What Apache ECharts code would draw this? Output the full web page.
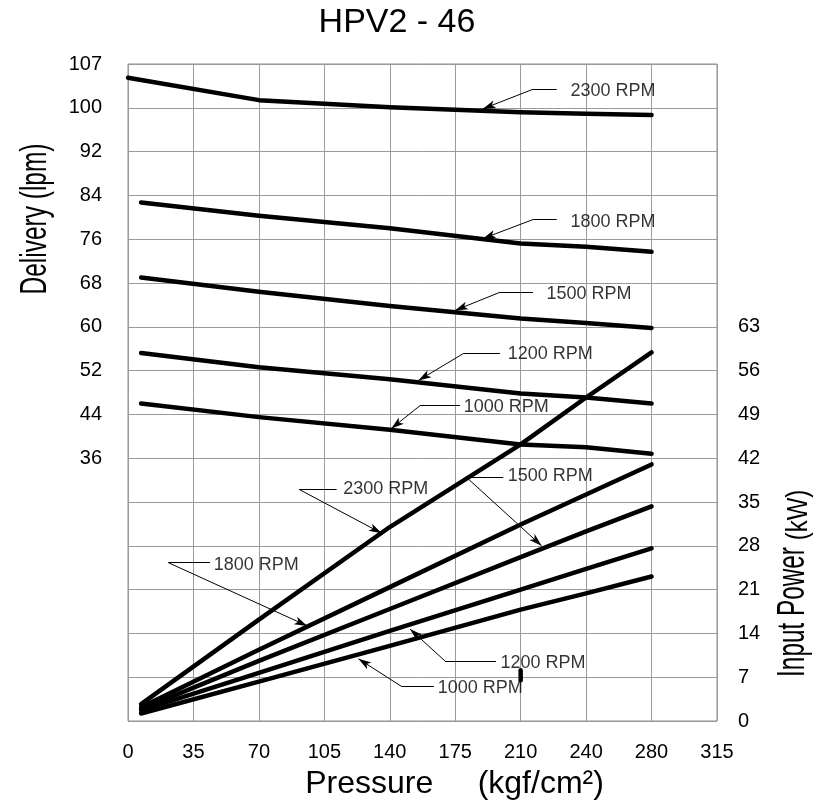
<!DOCTYPE html>
<html><head><meta charset="utf-8">
<script src="https://cdn.jsdelivr.net/npm/echarts@6/dist/echarts.min.js"></script>
<style>html,body{margin:0;padding:0;background:#fff}#c{width:816px;height:805px}</style>
</head><body><div id="c"></div>
<script>
const FONT = '"Liberation Sans", Arial, Helvetica, sans-serif';

// x axis ticks (the 8th grid line is labelled 240 on the original)
const pressureTickValues = [0, 35, 70, 105, 140, 175, 210, 245, 280, 315];
const pressureTickLabels = ['0', '35', '70', '105', '140', '175', '210', '240', '280', '315'];
// left axis (delivery, lpm)
const deliveryTickValues = [36, 44, 52, 60, 68, 76, 84, 92, 100, 108];
const deliveryTickLabels = ['36', '44', '52', '60', '68', '76', '84', '92', '100', '107'];
// right axis (input power, kW)
const powerTickValues = [0, 7, 14, 21, 28, 35, 42, 49, 56, 63];
const powerTickLabels = ['0', '7', '14', '21', '28', '35', '42', '49', '56', '63'];

// pressure points of the curves
const pressure2300Delivery = [0, 70, 140, 210, 245, 280];
const pressurePoints = [7, 70, 140, 210, 245, 280];

// delivery (lpm)
const delivery2300 = [105.5, 101.4, 100.1, 99.2, 98.9, 98.7];
const delivery1800 = [82.7, 80.3, 78.0, 75.2, 74.6, 73.7];
const delivery1500 = [69.0, 66.4, 63.8, 61.5, 60.7, 59.8];
const delivery1200 = [55.2, 52.6, 50.4, 47.8, 47.1, 46.0];
const delivery1000 = [46.0, 43.5, 41.2, 38.5, 38.0, 36.8];

// input power (kW)
const power2300 = [2.7, 16.2, 31.0, 44.2, 51.7, 58.9];
const power1800 = [2.2, 11.4, 21.4, 31.4, 36.2, 41.0];
const power1500 = [1.9, 9.6, 17.9, 26.2, 30.3, 34.3];
const power1200 = [1.7, 7.7, 14.4, 21.0, 24.3, 27.6];
const power1000 = [1.2, 6.3, 12.0, 17.8, 20.4, 23.1];

// annotation labels: [text, text anchor, leader points]
const deliveryNotes = [
  ['2300 RPM', [236.4, 103.0], [[229.3, 103.4], [216.7, 103.4], [189.7, 99.8]]],
  ['1800 RPM', [236.4, 79.1], [[229.3, 79.6], [216.7, 79.6], [189.7, 76.1]]],
  ['1500 RPM', [223.5, 65.9], [[216.6, 66.3], [198.9, 66.3], [174.9, 63.0]]],
  ['1200 RPM', [202.8, 55.1], [[198.9, 55.1], [179.3, 55.1], [155.3, 50.2]]],
  ['1000 RPM', [179.3, 45.4], [[177.6, 45.6], [156.2, 45.6], [140.7, 41.4]]]
];
const powerNotes = [
  ['2300 RPM', [114.8, 37.0], [[111.6, 37.0], [91.6, 37.0], [135.7, 30.0]]],
  ['1500 RPM', [202.8, 39.1], [[200.7, 39.0], [180.8, 39.0], [221.2, 28.0]]],
  ['1800 RPM', [45.6, 24.9], [[43.9, 25.3], [21.6, 25.3], [95.9, 15.2]]],
  ['1200 RPM', [198.9, 9.2], [[196.8, 9.6], [169.5, 9.6], [150.8, 14.7]]],
  ['1000 RPM', [165.4, 5.2], [[163.6, 5.5], [146.4, 5.5], [123.2, 9.95]]]
];
// small stray mark on the original drawing
const strayMark = [[210, 6.5], [210, 8.1]];

function pairs(xs, ys) { return xs.map((x, i) => [x, ys[i]]); }
function curve(name, data, axis) {
  return {
    name: name, type: 'line', yAxisIndex: axis, data: data,
    symbol: 'none', silent: true, animation: false,
    lineStyle: { color: '#000', width: 4.5, cap: 'round', join: 'round' }
  };
}
function leaderSeries(notes, axis) {
  const lines = [];
  notes.forEach(n => {
    const p = n[2];
    lines.push([{ coord: p[0], symbol: 'none' }, { coord: p[1], symbol: 'none' }]);
    lines.push([{ coord: p[1], symbol: 'none' }, { coord: p[2], symbol: 'arrow' }]);
  });
  return {
    type: 'line', yAxisIndex: axis, data: [], silent: true, animation: false,
    markLine: {
      silent: true, animation: false, symbolSize: [6, 13],
      lineStyle: { color: '#000', width: 1, type: 'solid' },
      label: { show: false }, emphasis: { disabled: true },
      data: lines
    }
  };
}
function labelSeries(notes, axis) {
  return {
    type: 'scatter', yAxisIndex: axis, silent: true, animation: false,
    symbolSize: 1, itemStyle: { color: 'rgba(0,0,0,0)' },
    data: notes.map(n => [n[1][0], n[1][1], n[0]]),
    label: {
      show: true, position: 'right', distance: 0,
      formatter: p => p.data[2],
      color: '#000', fontSize: 18, fontFamily: FONT
    }
  };
}
function lookup(values, labels) {
  return v => { const i = values.findIndex(t => Math.abs(t - v) < 1e-6); return i >= 0 ? labels[i] : ''; };
}

const chart = echarts.init(document.getElementById('c'), null, { renderer: 'canvas' });
chart.setOption({
  backgroundColor: '#fff',
  animation: false,
  title: {
    text: 'HPV2 - 46', left: 392, top: 1, textAlign: 'center',
    textStyle: { fontSize: 34, fontWeight: 'normal', color: '#000', fontFamily: FONT }
  },
  grid: { left: 128, right: 99, top: 64, bottom: 76, show: true, borderColor: '#8c8c8c', borderWidth: 1 },
  xAxis: {
    type: 'value', min: 0, max: 315, interval: 35,
    name: 'Pressure     (kgf/cm²)', nameLocation: 'middle', nameGap: 47,
    nameTextStyle: { fontSize: 32, color: '#000', fontFamily: FONT, padding: [0, 0, 0, 64] },
    axisLine: { show: false }, axisTick: { show: false },
    axisLabel: { formatter: lookup(pressureTickValues, pressureTickLabels), color: '#000', fontSize: 20, fontFamily: FONT, margin: 21 },
    splitLine: { show: true, lineStyle: { color: '#9a9a9a', width: 1 } }
  },
  yAxis: [
    {
      type: 'value', min: -12, max: 108, interval: 8, position: 'left',
      axisLine: { show: false }, axisTick: { show: false },
      axisLabel: { formatter: lookup(deliveryTickValues, deliveryTickLabels), color: '#000', fontSize: 20, fontFamily: FONT, margin: 26 },
      splitLine: { show: true, lineStyle: { color: '#9a9a9a', width: 1 } }
    },
    {
      type: 'value', min: 0, max: 105, interval: 7, position: 'right',
      axisLine: { show: false }, axisTick: { show: false },
      axisLabel: { formatter: lookup(powerTickValues, powerTickLabels), color: '#000', fontSize: 20, fontFamily: FONT, margin: 21 },
      splitLine: { show: false }
    }
  ],
  graphic: [
    {
      type: 'text', x: 36, y: 219, rotation: Math.PI / 2, scaleX: 0.68, silent: true,
      style: { text: 'Delivery (lpm)', fill: '#000', font: '36px ' + FONT, align: 'center', verticalAlign: 'middle' }
    },
    {
      type: 'text', x: 794, y: 612, rotation: Math.PI / 2, scaleX: 0.64, silent: true,
      style: { text: 'Input Power', fill: '#000', font: '38px ' + FONT, align: 'center', verticalAlign: 'middle' }
    },
    {
      type: 'text', x: 799, y: 515, rotation: Math.PI / 2, scaleX: 0.8, silent: true,
      style: { text: '(kW)', fill: '#000', font: '30px ' + FONT, align: 'center', verticalAlign: 'middle' }
    }
  ],
  series: [
    curve('Delivery 2300 RPM', pairs(pressure2300Delivery, delivery2300), 0),
    curve('Delivery 1800 RPM', pairs(pressurePoints, delivery1800), 0),
    curve('Delivery 1500 RPM', pairs(pressurePoints, delivery1500), 0),
    curve('Delivery 1200 RPM', pairs(pressurePoints, delivery1200), 0),
    curve('Delivery 1000 RPM', pairs(pressurePoints, delivery1000), 0),
    curve('Power 2300 RPM', pairs(pressurePoints, power2300), 1),
    curve('Power 1800 RPM', pairs(pressurePoints, power1800), 1),
    curve('Power 1500 RPM', pairs(pressurePoints, power1500), 1),
    curve('Power 1200 RPM', pairs(pressurePoints, power1200), 1),
    curve('Power 1000 RPM', pairs(pressurePoints, power1000), 1),
    curve('mark', strayMark, 1),
    leaderSeries(deliveryNotes, 0),
    leaderSeries(powerNotes, 1),
    labelSeries(deliveryNotes, 0),
    labelSeries(powerNotes, 1)
  ]
});
</script></body></html>
